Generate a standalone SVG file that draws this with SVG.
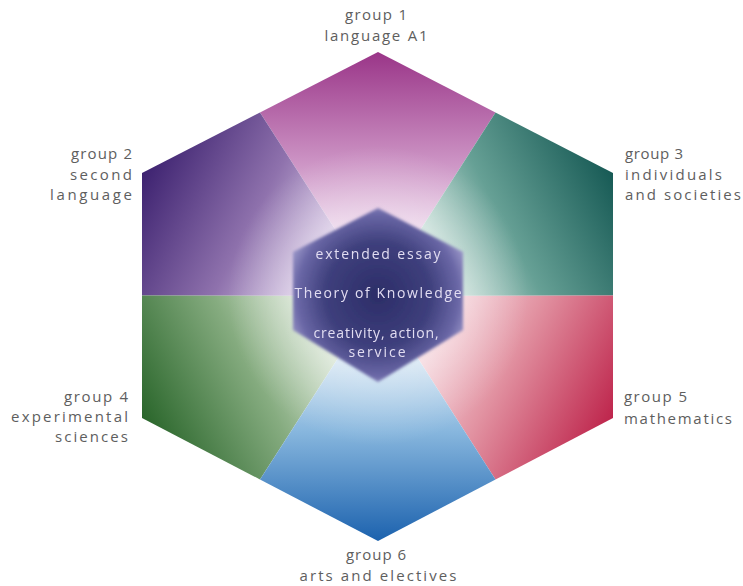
<svg xmlns="http://www.w3.org/2000/svg" width="743" height="586" viewBox="0 0 743 586">
<style>
.lbl{font-family:"Open Sans","DejaVu Sans",sans-serif;font-size:15px;fill:#5e5e5e}
.core{font-family:"Open Sans","DejaVu Sans",sans-serif;font-size:14px;fill:#e2ddf2;text-anchor:middle}
</style>
<defs>
<linearGradient id="g1" gradientUnits="userSpaceOnUse" x1="378" y1="52" x2="378" y2="296">
<stop offset="0" stop-color="#9a3588"/><stop offset="0.45" stop-color="#cc93c4"/><stop offset="0.8" stop-color="#f2e2f2"/><stop offset="1" stop-color="#fbf5fb"/>
</linearGradient>
<linearGradient id="g2" gradientUnits="userSpaceOnUse" x1="142" y1="173" x2="378" y2="296">
<stop offset="0" stop-color="#3d2270"/><stop offset="0.45" stop-color="#8f72ad"/><stop offset="0.8" stop-color="#e6d9f0"/><stop offset="1" stop-color="#f8f3fb"/>
</linearGradient>
<linearGradient id="g3" gradientUnits="userSpaceOnUse" x1="613" y1="173" x2="378" y2="296">
<stop offset="0" stop-color="#175a55"/><stop offset="0.45" stop-color="#66a095"/><stop offset="0.8" stop-color="#dfeee8"/><stop offset="1" stop-color="#f5f9f7"/>
</linearGradient>
<linearGradient id="g4" gradientUnits="userSpaceOnUse" x1="142" y1="418" x2="378" y2="296">
<stop offset="0" stop-color="#2a662b"/><stop offset="0.45" stop-color="#86ac80"/><stop offset="0.8" stop-color="#e4ede0"/><stop offset="1" stop-color="#f5f9f3"/>
</linearGradient>
<linearGradient id="g5" gradientUnits="userSpaceOnUse" x1="613" y1="418" x2="378" y2="296">
<stop offset="0" stop-color="#be254c"/><stop offset="0.45" stop-color="#e293a2"/><stop offset="0.8" stop-color="#f8e1e6"/><stop offset="1" stop-color="#fcf4f6"/>
</linearGradient>
<linearGradient id="g6" gradientUnits="userSpaceOnUse" x1="378" y1="541" x2="378" y2="296">
<stop offset="0" stop-color="#1c62ae"/><stop offset="0.45" stop-color="#88b7de"/><stop offset="0.8" stop-color="#e0ecf6"/><stop offset="1" stop-color="#f3f8fc"/>
</linearGradient>
<radialGradient id="core" gradientUnits="userSpaceOnUse" cx="378" cy="295" r="95">
<stop offset="0" stop-color="#2c2d68"/><stop offset="0.55" stop-color="#3e3f7c"/><stop offset="0.85" stop-color="#6a67a6"/><stop offset="1" stop-color="#9a96c8"/>
</radialGradient>
<radialGradient id="glow" gradientUnits="userSpaceOnUse" cx="378" cy="296" r="150">
<stop offset="0" stop-color="#ffffff" stop-opacity="0.6"/><stop offset="0.6" stop-color="#ffffff" stop-opacity="0.25"/><stop offset="1" stop-color="#ffffff" stop-opacity="0"/>
</radialGradient>
<filter id="soft" x="-10%" y="-10%" width="120%" height="120%"><feGaussianBlur stdDeviation="1.6"/></filter>
<filter id="tsoft"><feGaussianBlur stdDeviation="0.3"/></filter>
</defs>

<g id="group1">
<polygon points="378,296 260,112.5 378,52 495.5,112.5" fill="url(#g1)"/>
<text class="lbl" x="376" y="20" text-anchor="middle" textLength="62">group 1</text>
<text class="lbl" x="376" y="41" text-anchor="middle" textLength="103">language A1</text>
</g>
<g id="group2">
<polygon points="378,296 142,295.5 142,173 260,112.5" fill="url(#g2)"/>
<text class="lbl" x="132" y="159" text-anchor="end" textLength="61">group 2</text>
<text class="lbl" x="132" y="179.5" text-anchor="end" textLength="62">second</text>
<text class="lbl" x="132" y="200" text-anchor="end" textLength="82">language</text>
</g>
<g id="group3">
<polygon points="378,296 495.5,112.5 613,173 613,295.5" fill="url(#g3)"/>
<text class="lbl" x="625" y="159" textLength="58">group 3</text>
<text class="lbl" x="625" y="179.5" textLength="97">individuals</text>
<text class="lbl" x="625" y="200" textLength="116">and societies</text>
</g>
<g id="group4">
<polygon points="378,296 260,479.5 142,418 142,295.5" fill="url(#g4)"/>
<text class="lbl" x="128" y="402" text-anchor="end" textLength="64">group 4</text>
<text class="lbl" x="128" y="422" text-anchor="end" textLength="117">experimental</text>
<text class="lbl" x="128" y="442" text-anchor="end" textLength="73">sciences</text>
</g>
<g id="group5">
<polygon points="378,296 613,295.5 613,418 495.5,479.5" fill="url(#g5)"/>
<text class="lbl" x="624" y="402" textLength="63">group 5</text>
<text class="lbl" x="624" y="424" textLength="108">mathematics</text>
</g>
<g id="group6">
<polygon points="378,296 495.5,479.5 378,541 260,479.5" fill="url(#g6)"/>
<text class="lbl" x="376" y="560" text-anchor="middle" textLength="60">group 6</text>
<text class="lbl" x="378" y="581" text-anchor="middle" textLength="157">arts and electives</text>
</g>

<polygon points="378,52 613,173 613,418 378,541 142,418 142,173" fill="url(#glow)"/>

<g id="core-node">
<polygon points="378,208 463,252 463,330 378,382 293,330 293,252" fill="url(#core)" filter="url(#soft)"/>
<g filter="url(#tsoft)">
<text class="core" x="378" y="259" textLength="125">extended essay</text>
<text class="core" x="378" y="298" textLength="167">Theory of Knowledge</text>
<text class="core" x="376" y="338" textLength="125">creativity, action,</text>
<text class="core" x="377" y="357" textLength="57">service</text>
</g>
</g>
<g id="connectors"/>
</svg>
